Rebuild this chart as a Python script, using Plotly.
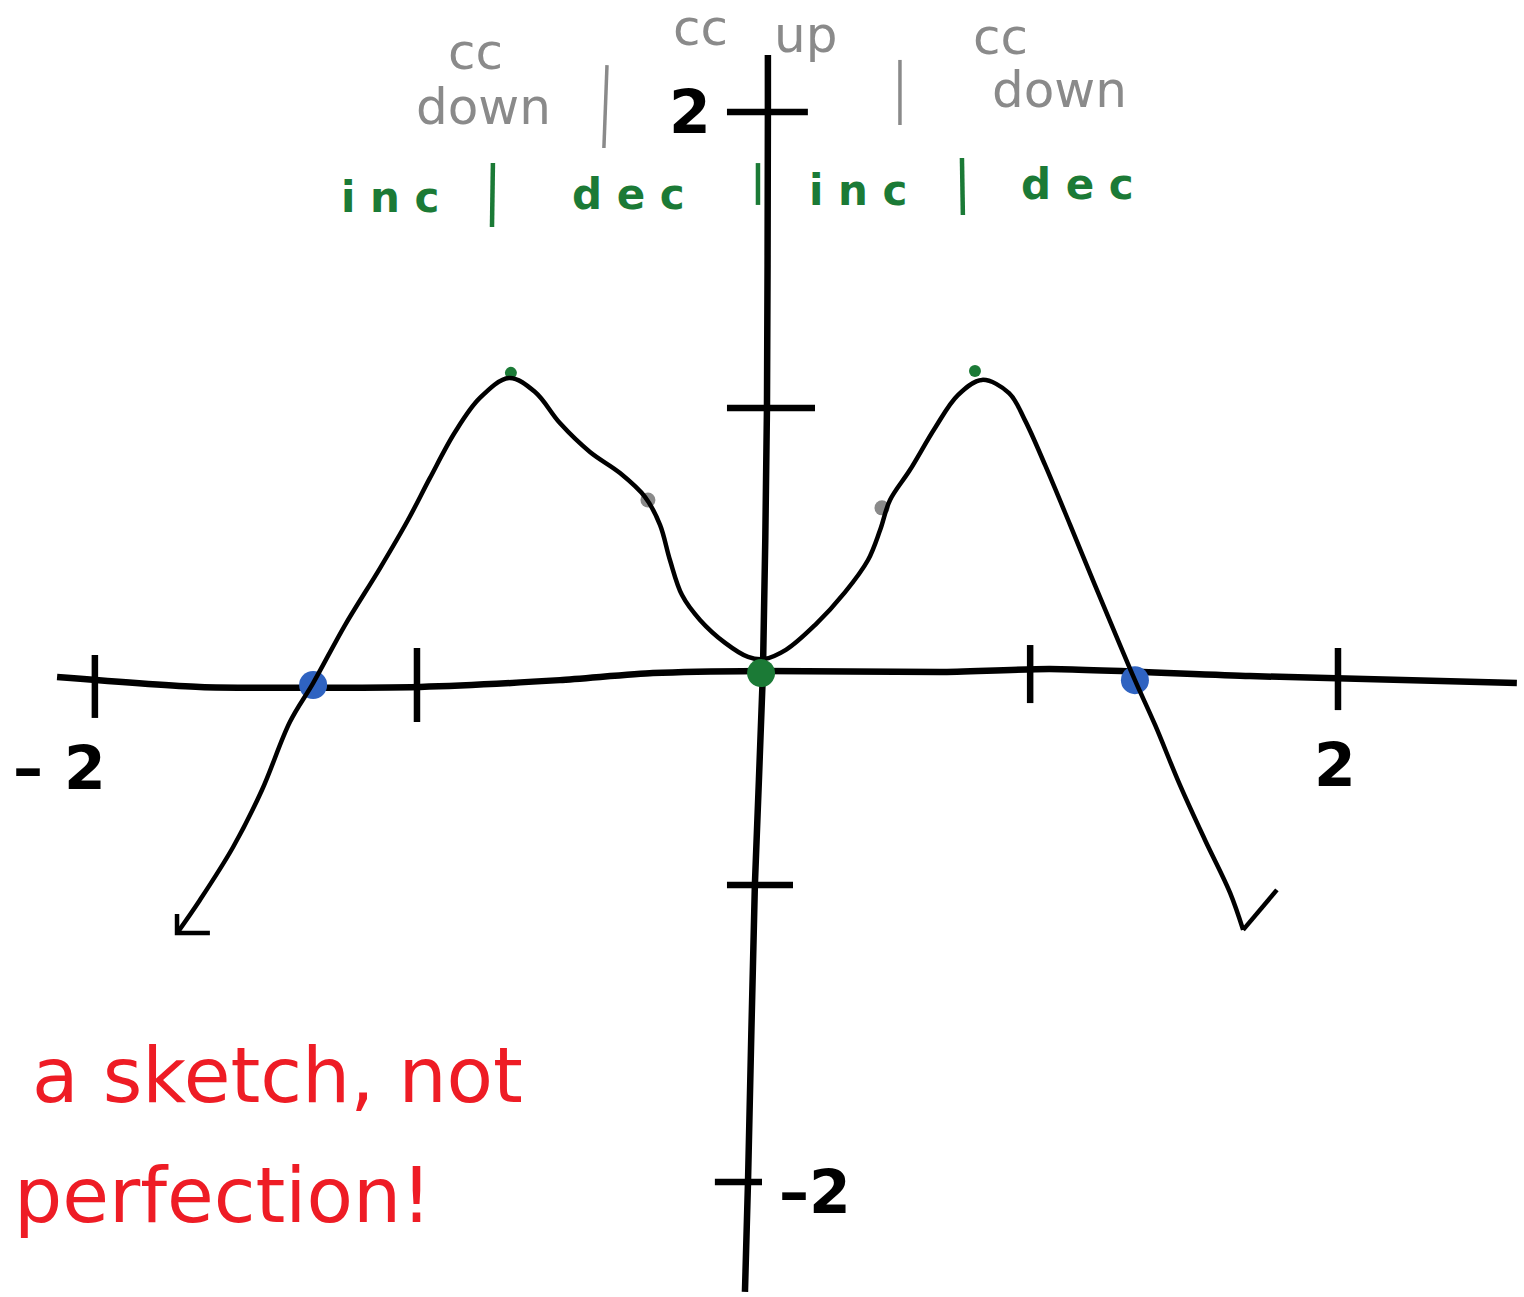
import plotly.graph_objects as go

# ---- hand-sketched function f(x) ----
curve_x = [-1.887, -1.813, -1.706, -1.613, -1.523, -1.448, -1.345, -1.232, -1.142, -1.071, -0.990,
           -0.910, -0.816, -0.732, -0.652, -0.555, -0.458, -0.377, -0.329, -0.297, -0.258,
           -0.200, -0.119, -0.045, 0.006, 0.077, 0.171, 0.268, 0.342, 0.381, 0.413,
           0.477, 0.558, 0.632, 0.710, 0.797, 0.848, 0.913, 0.994, 1.074, 1.155,
           1.203, 1.268, 1.348, 1.429, 1.510, 1.552]
curve_y = [-0.956, -0.833, -0.637, -0.426, -0.174, -0.030, 0.185, 0.396, 0.574, 0.730, 0.900,
           1.026, 1.100, 1.048, 0.933, 0.826, 0.748, 0.659, 0.556, 0.426, 0.296,
           0.204, 0.119, 0.067, 0.059, 0.093, 0.185, 0.307, 0.426, 0.537, 0.648,
           0.759, 0.915, 1.037, 1.093, 1.044, 0.944, 0.778, 0.556, 0.333, 0.111,
           -0.019, -0.185, -0.407, -0.611, -0.807, -0.944]

# arrowhead at the left end, check-style stroke at the right end
left_head_x = [-1.887, -1.887, -1.781]
left_head_y = [-0.885, -0.956, -0.956]
right_head_x = [1.552, 1.661]
right_head_y = [-0.944, -0.796]

# hand-drawn axes
xaxis_line_x = [-2.274, -1.813, -1.103, -0.652, -0.352, -0.006, 0.574, 0.929, 1.574, 2.435]
xaxis_line_y = [-0.007, -0.044, -0.044, -0.019, 0.007, 0.015, 0.011, 0.022, -0.004, -0.030]
yaxis_line_x = [0.019, 0.019, 0.016, 0.003, -0.023, -0.045, -0.055]
yaxis_line_y = [2.296, 2.085, 0.989, 0.011, -0.778, -1.870, -2.285]

# tick marks on the x axis (vertical strokes)
xtick_pos = [-2.152, -1.113, 0.865, 1.858]
xtick_top = [0.074, 0.100, 0.111, 0.100]
xtick_bottom = [-0.159, -0.174, -0.104, -0.130]
# tick marks on the y axis (horizontal strokes)
ytick_pos = [2.085, 0.989, -0.778, -1.878]
ytick_left = [-0.113, -0.113, -0.113, -0.152]
ytick_right = [0.148, 0.171, 0.100, 0.000]

# tick labels
tick_labels = ["– 2", "2", "2", "–2"]
tick_label_x = [-2.265, 1.848, -0.232, 0.171]
tick_label_y = [-0.344, -0.333, 2.085, -1.915]

# marked points
zero_x = [-1.448, 1.203]
zero_y = [-0.037, -0.019]
extrema_x = [-0.810, 0.687]
extrema_y = [1.119, 1.126]
origin_x = [-0.003]
origin_y = [0.007]
inflect_x = [-0.368, 0.387]
inflect_y = [0.648, 0.619]

# concavity notes (grey)
concav_text = ["cc", "down", "cc", "up", "cc", "down"]
concav_x = [-0.923, -0.897, -0.200, 0.139, 0.768, 0.961]
concav_y = [2.307, 2.104, 2.396, 2.370, 2.363, 2.167]
concav_bar_x = [[-0.500, -0.510], [0.445, 0.445]]
concav_bar_y = [[2.259, 1.952], [2.278, 2.037]]

# monotonicity notes (green)
mono_text = ["i n c", "d e c", "i n c", "d e c"]
mono_x = [-1.200, -0.432, 0.310, 1.019]
mono_y = [1.770, 1.778, 1.796, 1.815]
mono_bar_x = [[-0.868, -0.871], [-0.013, -0.013], [0.645, 0.648]]
mono_bar_y = [[1.896, 1.659], [1.896, 1.741], [1.915, 1.704]]

# red remark, two lines
note_lines = ["a sketch, not", "perfection!"]
note_x = [-2.361, -2.419]
note_y = [-1.485, -1.926]

BLACK = "#000000"
GREY = "#8a8a8a"
GREEN = "#1b7a36"
BLUE = "#2f63c1"
RED = "#ee1c25"

fig = go.Figure()


def stroke(xs, ys, color, width, smooth=0.6):
    line = dict(color=color, width=width)
    if smooth:
        line.update(shape="spline", smoothing=smooth)
    fig.add_trace(go.Scatter(x=xs, y=ys, mode="lines", line=line,
                             hoverinfo="skip", showlegend=False))


# axes
stroke(xaxis_line_x, xaxis_line_y, BLACK, 6.5)
stroke(yaxis_line_x, yaxis_line_y, BLACK, 6.5)

# ticks
tx, ty = [], []
for p, t, b in zip(xtick_pos, xtick_top, xtick_bottom):
    tx += [p, p, None]
    ty += [t, b, None]
for p, l, r in zip(ytick_pos, ytick_left, ytick_right):
    tx += [l, r, None]
    ty += [p, p, None]
fig.add_trace(go.Scatter(x=tx, y=ty, mode="lines", line=dict(color=BLACK, width=6.5),
                         hoverinfo="skip", showlegend=False))

# grey / green separator bars
for bx, by in zip(concav_bar_x, concav_bar_y):
    stroke(bx, by, GREY, 3.5, 0)
for bx, by in zip(mono_bar_x, mono_bar_y):
    stroke(bx, by, GREEN, 4.5, 0)

# zeros (blue) under the curve
fig.add_trace(go.Scatter(x=zero_x, y=zero_y, mode="markers",
                         marker=dict(color=BLUE, size=28, line=dict(width=0)),
                         hoverinfo="skip", showlegend=False))
# inflection points (grey)
fig.add_trace(go.Scatter(x=inflect_x, y=inflect_y, mode="markers",
                         marker=dict(color=GREY, size=15, line=dict(width=0)),
                         hoverinfo="skip", showlegend=False))
# extrema (green)
fig.add_trace(go.Scatter(x=extrema_x, y=extrema_y, mode="markers",
                         marker=dict(color=GREEN, size=12, line=dict(width=0)),
                         hoverinfo="skip", showlegend=False))

# the curve itself
stroke(curve_x, curve_y, BLACK, 4.5, 1.0)
stroke(left_head_x, left_head_y, BLACK, 4.5, 0)
stroke(right_head_x, right_head_y, BLACK, 4.5, 0)

# local min at the origin
fig.add_trace(go.Scatter(x=origin_x, y=origin_y, mode="markers",
                         marker=dict(color=GREEN, size=28, line=dict(width=0)),
                         hoverinfo="skip", showlegend=False))

annotations = []
for t, x, y in zip(tick_labels, tick_label_x, tick_label_y):
    annotations.append(dict(x=x, y=y, text=t, showarrow=False,
                            font=dict(family="DejaVu Sans", size=60, color=BLACK, weight="bold")))
for t, x, y in zip(concav_text, concav_x, concav_y):
    annotations.append(dict(x=x, y=y, text=t, showarrow=False,
                            font=dict(family="DejaVu Sans", size=50, color=GREY)))
for t, x, y in zip(mono_text, mono_x, mono_y):
    annotations.append(dict(x=x, y=y, text=t, showarrow=False,
                            font=dict(family="DejaVu Sans", size=42, color=GREEN, weight="bold")))
for t, x, y in zip(note_lines, note_x, note_y):
    annotations.append(dict(x=x, y=y, text=t, showarrow=False, xanchor="left",
                            font=dict(family="DejaVu Sans", size=76, color=RED)))

fig.update_layout(
    width=1524, height=1297,
    margin=dict(l=0, r=0, t=0, b=0),
    paper_bgcolor="white", plot_bgcolor="white",
    xaxis=dict(range=[-762 / 310, 762 / 310], visible=False, fixedrange=True),
    yaxis=dict(range=[2.5 - 1297 / 270, 2.5], visible=False, fixedrange=True),
    annotations=annotations,
    showlegend=False,
)

fig.write_html("out.html")
